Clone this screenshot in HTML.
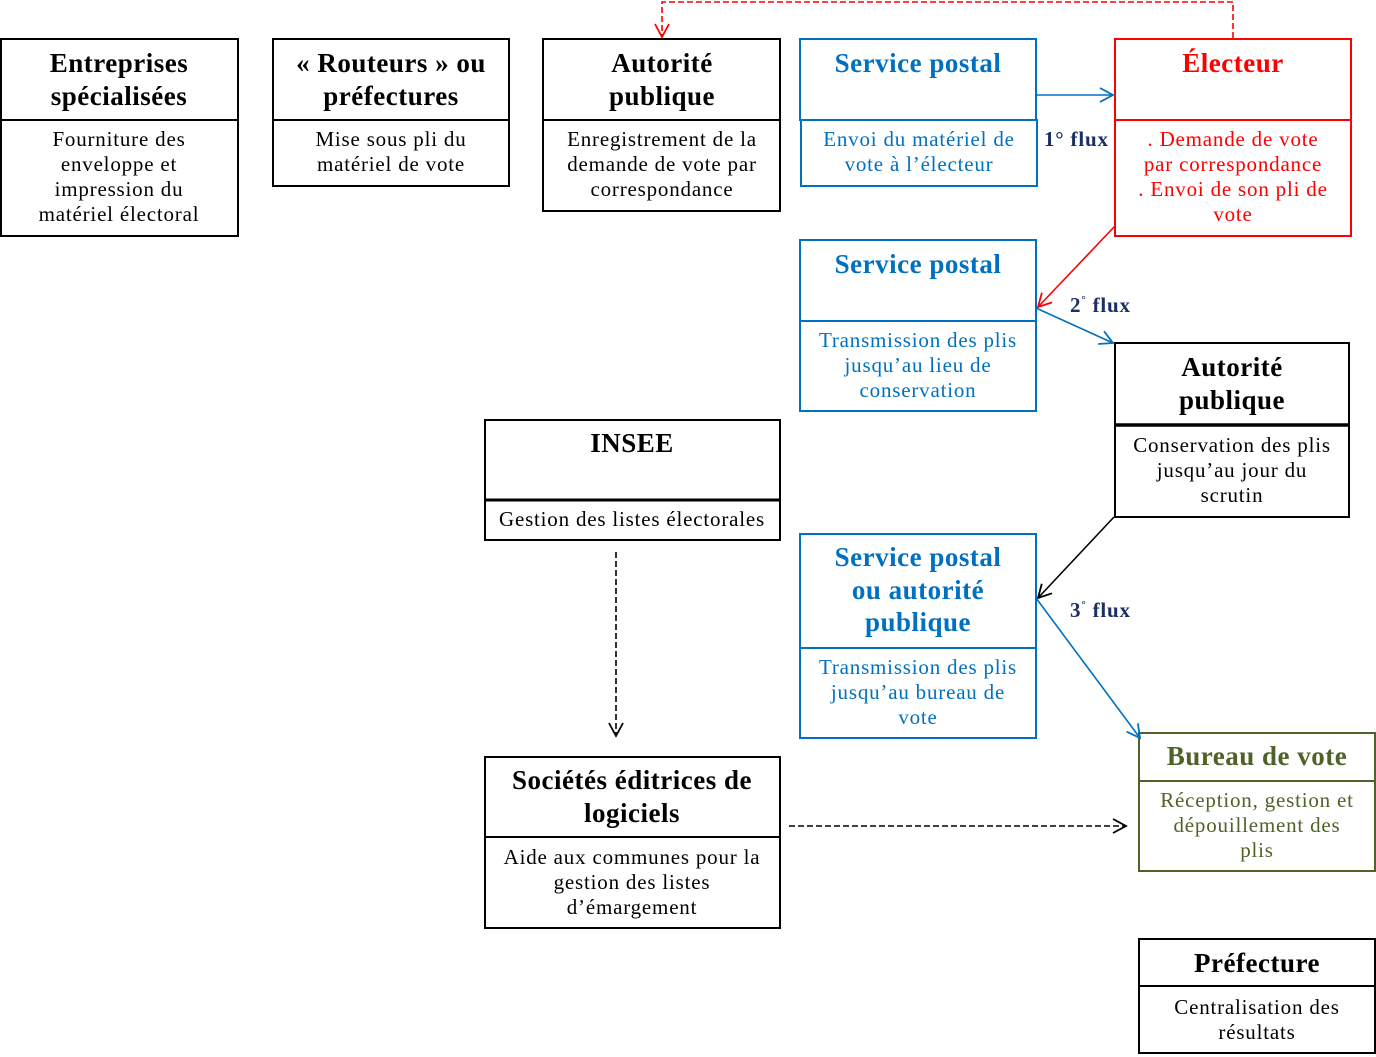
<!DOCTYPE html>
<html>
<head>
<meta charset="utf-8">
<style>
html,body{margin:0;padding:0;background:#fff;}
svg{display:block;}
text{font-family:"Liberation Serif",serif;text-anchor:middle;}
.t{font-size:27px;font-weight:bold;letter-spacing:0.5px;}
.b{font-size:21px;letter-spacing:0.8px;}
.f{font-size:21px;font-weight:bold;fill:#1b2f63;text-anchor:start;letter-spacing:0.8px;}
</style>
</head>
<body>
<svg width="1376" height="1057" viewBox="0 0 1376 1057" xmlns="http://www.w3.org/2000/svg">
<defs>
<marker id="mk" viewBox="0 0 14 14" markerWidth="14" markerHeight="14" markerUnits="userSpaceOnUse" refX="13" refY="7" orient="auto" overflow="visible"><path d="M0,0 L13,7 L0,14" fill="none" stroke="#000" stroke-width="1.8"/></marker>
<marker id="mb" viewBox="0 0 14 14" markerWidth="14" markerHeight="14" markerUnits="userSpaceOnUse" refX="13" refY="7" orient="auto" overflow="visible"><path d="M0,0 L13,7 L0,14" fill="none" stroke="#0070C0" stroke-width="1.8"/></marker>
<marker id="mr" viewBox="0 0 14 14" markerWidth="14" markerHeight="14" markerUnits="userSpaceOnUse" refX="13" refY="7" orient="auto" overflow="visible"><path d="M0,0 L13,7 L0,14" fill="none" stroke="#FF0000" stroke-width="1.8"/></marker>
</defs>

<!-- Entreprises spécialisées -->
<rect x="1" y="39" width="237" height="197" fill="none" stroke="#000" stroke-width="2"/>
<line x1="1" y1="120" x2="238" y2="120" stroke="#000" stroke-width="2"/>
<text class="t" x="119" y="72">Entreprises</text>
<text class="t" x="119" y="105">spécialisées</text>
<text class="b" x="119" y="146">Fourniture des</text>
<text class="b" x="119" y="171">enveloppe et</text>
<text class="b" x="119" y="196">impression du</text>
<text class="b" x="119" y="221">matériel électoral</text>

<!-- Routeurs -->
<rect x="273" y="39" width="236" height="147" fill="none" stroke="#000" stroke-width="2"/>
<line x1="273" y1="120" x2="509" y2="120" stroke="#000" stroke-width="2"/>
<text class="t" x="391" y="72">« Routeurs » ou</text>
<text class="t" x="391" y="105">préfectures</text>
<text class="b" x="391" y="146">Mise sous pli du</text>
<text class="b" x="391" y="171">matériel de vote</text>

<!-- Autorité publique 1 -->
<rect x="543" y="39" width="237" height="172" fill="none" stroke="#000" stroke-width="2"/>
<line x1="543" y1="120" x2="780" y2="120" stroke="#000" stroke-width="2"/>
<text class="t" x="662" y="72">Autorité</text>
<text class="t" x="662" y="105">publique</text>
<text class="b" x="662" y="146">Enregistrement de la</text>
<text class="b" x="662" y="171">demande de vote par</text>
<text class="b" x="662" y="196">correspondance</text>

<!-- Service postal 1 -->
<rect x="800" y="39" width="236" height="81" fill="none" stroke="#0070C0" stroke-width="2"/>
<rect x="801" y="120" width="236" height="66" fill="none" stroke="#0070C0" stroke-width="2"/>
<text class="t" x="918" y="72" fill="#0070C0">Service postal</text>
<text class="b" x="919" y="146" fill="#0070C0">Envoi du matériel de</text>
<text class="b" x="919" y="171" fill="#0070C0">vote à l’électeur</text>

<!-- Électeur -->
<rect x="1115" y="39" width="236" height="197" fill="none" stroke="#FF0000" stroke-width="2"/>
<line x1="1115" y1="120" x2="1351" y2="120" stroke="#FF0000" stroke-width="2"/>
<text class="t" x="1233" y="72" fill="#FF0000">Électeur</text>
<text class="b" x="1233" y="146" fill="#FF0000">. Demande de vote</text>
<text class="b" x="1233" y="171" fill="#FF0000">par correspondance</text>
<text class="b" x="1233" y="196" fill="#FF0000">. Envoi de son pli de</text>
<text class="b" x="1233" y="221" fill="#FF0000">vote</text>

<text class="f" x="1044" y="146">1° flux</text>

<!-- Service postal 2 -->
<rect x="800" y="240" width="236" height="171" fill="none" stroke="#0070C0" stroke-width="2"/>
<line x1="800" y1="321" x2="1036" y2="321" stroke="#0070C0" stroke-width="2"/>
<text class="t" x="918" y="273" fill="#0070C0">Service postal</text>
<text class="b" x="918" y="347" fill="#0070C0">Transmission des plis</text>
<text class="b" x="918" y="372" fill="#0070C0">jusqu’au lieu de</text>
<text class="b" x="918" y="397" fill="#0070C0">conservation</text>

<text class="f" x="1070" y="312">2<tspan font-size="11" dy="-9">°</tspan><tspan dy="9"> flux</tspan></text>

<!-- Autorité publique 2 -->
<rect x="1115" y="343" width="234" height="174" fill="none" stroke="#000" stroke-width="2"/>
<line x1="1115" y1="425" x2="1349" y2="425" stroke="#000" stroke-width="3.5"/>
<text class="t" x="1232" y="376">Autorité</text>
<text class="t" x="1232" y="409">publique</text>
<text class="b" x="1232" y="452">Conservation des plis</text>
<text class="b" x="1232" y="477">jusqu’au jour du</text>
<text class="b" x="1232" y="502">scrutin</text>

<!-- INSEE -->
<rect x="485" y="420" width="295" height="120" fill="none" stroke="#000" stroke-width="2"/>
<line x1="485" y1="500" x2="780" y2="500" stroke="#000" stroke-width="3"/>
<text class="t" x="632" y="452">INSEE</text>
<text class="b" x="632" y="526">Gestion des listes électorales</text>

<!-- Service postal ou autorité publique -->
<rect x="800" y="534" width="236" height="204" fill="none" stroke="#0070C0" stroke-width="2"/>
<line x1="800" y1="648" x2="1036" y2="648" stroke="#0070C0" stroke-width="2"/>
<text class="t" x="918" y="566" fill="#0070C0">Service postal</text>
<text class="t" x="918" y="599" fill="#0070C0">ou autorité</text>
<text class="t" x="918" y="631" fill="#0070C0">publique</text>
<text class="b" x="918" y="674" fill="#0070C0">Transmission des plis</text>
<text class="b" x="918" y="699" fill="#0070C0">jusqu’au bureau de</text>
<text class="b" x="918" y="724" fill="#0070C0">vote</text>

<text class="f" x="1070" y="617">3<tspan font-size="11" dy="-9">°</tspan><tspan dy="9"> flux</tspan></text>

<!-- Bureau de vote -->
<rect x="1139" y="733" width="236" height="138" fill="none" stroke="#4F6228" stroke-width="2"/>
<line x1="1139" y1="781" x2="1375" y2="781" stroke="#4F6228" stroke-width="2"/>
<text class="t" x="1257" y="765" fill="#4F6228">Bureau de vote</text>
<text class="b" x="1257" y="807" fill="#4F6228">Réception, gestion et</text>
<text class="b" x="1257" y="832" fill="#4F6228">dépouillement des</text>
<text class="b" x="1257" y="857" fill="#4F6228">plis</text>

<!-- Sociétés éditrices -->
<rect x="485" y="757" width="295" height="171" fill="none" stroke="#000" stroke-width="2"/>
<line x1="485" y1="837" x2="780" y2="837" stroke="#000" stroke-width="2"/>
<text class="t" x="632" y="789">Sociétés éditrices de</text>
<text class="t" x="632" y="822">logiciels</text>
<text class="b" x="632" y="864">Aide aux communes pour la</text>
<text class="b" x="632" y="889">gestion des listes</text>
<text class="b" x="632" y="914">d’émargement</text>

<!-- Préfecture -->
<rect x="1139" y="939" width="236" height="114" fill="none" stroke="#000" stroke-width="2"/>
<line x1="1139" y1="986" x2="1375" y2="986" stroke="#000" stroke-width="2"/>
<text class="t" x="1257" y="972">Préfecture</text>
<text class="b" x="1257" y="1014">Centralisation des</text>
<text class="b" x="1257" y="1039">résultats</text>

<!-- Connectors -->
<polyline points="1233,38 1233,2 662,2 662,37" fill="none" stroke="#FF0000" stroke-width="1.6" stroke-dasharray="6,3" marker-end="url(#mr)"/>
<line x1="1037" y1="95" x2="1113" y2="95" stroke="#0070C0" stroke-width="1.6" marker-end="url(#mb)"/>
<line x1="1115" y1="226" x2="1038" y2="307" stroke="#FF0000" stroke-width="1.6" marker-end="url(#mr)"/>
<line x1="1036" y1="308" x2="1113" y2="343" stroke="#0070C0" stroke-width="1.6" marker-end="url(#mb)"/>
<line x1="1114" y1="517" x2="1038" y2="598" stroke="#000" stroke-width="1.6" marker-end="url(#mk)"/>
<line x1="1036" y1="598" x2="1140" y2="738" stroke="#0070C0" stroke-width="1.6" marker-end="url(#mb)"/>
<line x1="616" y1="552" x2="616" y2="736" stroke="#000" stroke-width="1.6" stroke-dasharray="6,3" marker-end="url(#mk)"/>
<line x1="789" y1="826" x2="1126" y2="826" stroke="#000" stroke-width="1.6" stroke-dasharray="6,3" marker-end="url(#mk)"/>
</svg>
</body>
</html>
